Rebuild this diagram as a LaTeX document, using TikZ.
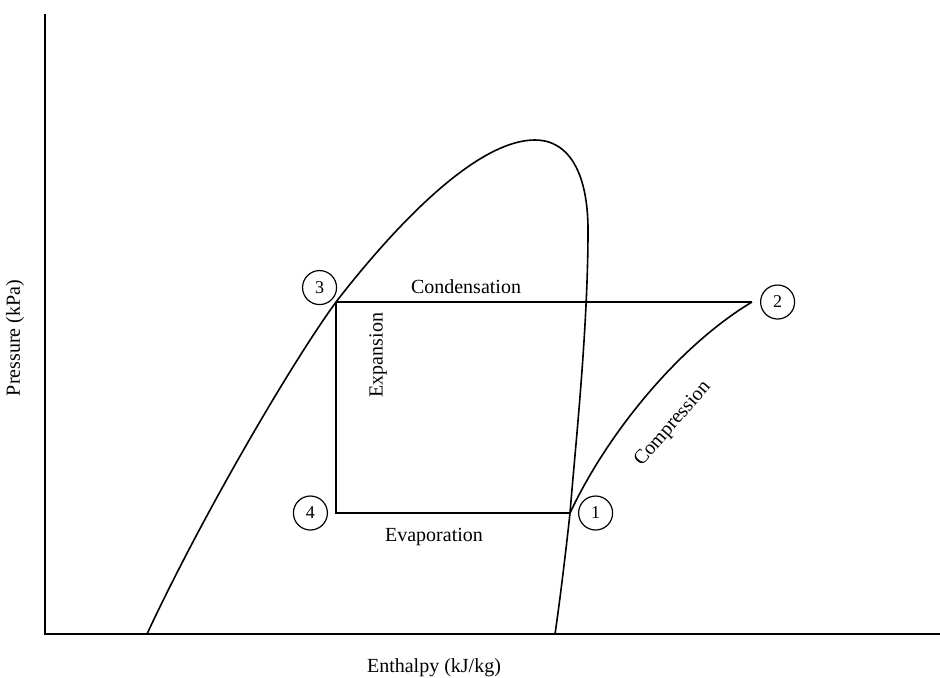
\documentclass[tikz,border=0pt]{standalone}
\usepackage{fontspec}
\setmainfont{Liberation Serif}
\usepackage{tikz}
\usetikzlibrary{positioning}

\begin{document}
\begin{tikzpicture}[
    x=0.5pt, y=-0.5pt,
    node distance=4pt,
    axis/.style  ={line width=1pt, color=black},
    curve/.style ={line width=0.8pt, color=black},
    state/.style ={circle, draw, line width=0.6pt, minimum size=17pt,
                   inner sep=0pt, font=\small},
    lbl/.style   ={font=\normalsize, inner sep=1pt}
]
\useasboundingbox (0,0) rectangle (940,677);

% axes
\coordinate (origin) at (45,634);
\coordinate (ytop)   at (45,14);
\coordinate (xend)   at (940,634);
\draw[axis] (ytop) -- (origin) -- (xend);
\node[lbl, rotate=90] (ylabel) at (15,338) {Pressure (kPa)};
\node[lbl]            (xlabel) at (434,668) {Enthalpy (kJ/kg)};

% cycle corners
\coordinate (p1) at (570,513);
\coordinate (p2) at (752,302);
\coordinate (p3) at (336,302);
\coordinate (p4) at (336,513);

% saturation dome
\coordinate (dl)   at (147,634);
\coordinate (top)  at (535,140);
\coordinate (dr)   at (588,230);
\coordinate (dend) at (555,634);
\draw[curve] (dl) .. controls (200,520) and (290,365) .. (p3)
                  .. controls (380,245) and (470,140) .. (top)
                  .. controls (570,140) and (588,175) .. (dr)
                  .. controls (588,330) and (575,450) .. (p1)
                  .. controls (566,550) and (560,600) .. (dend);

\draw[curve] (p3) -- (p2);
\draw[curve] (p3) -- (p4) -- (p1);
\draw[curve] (p1) .. controls (608,432) and (680,345) .. (p2);

% process labels
\node[lbl]            (cond) at (466,287) {Condensation};
\node[lbl]            (evap) at (434,537) {Evaporation};
\node[lbl, rotate=90] (expa) at (378,355) {Expansion};
\node[lbl, rotate=49] (comp) at (673,424) {Compression};

% state points
\node[state, right=of p1]                  (s1) {1};
\node[state, right=of p2]                  (s2) {2};
\node[state, above left=1pt and 2pt of p3] (s3) {3};
\node[state, left=of p4]                   (s4) {4};
\end{tikzpicture}
\end{document}
